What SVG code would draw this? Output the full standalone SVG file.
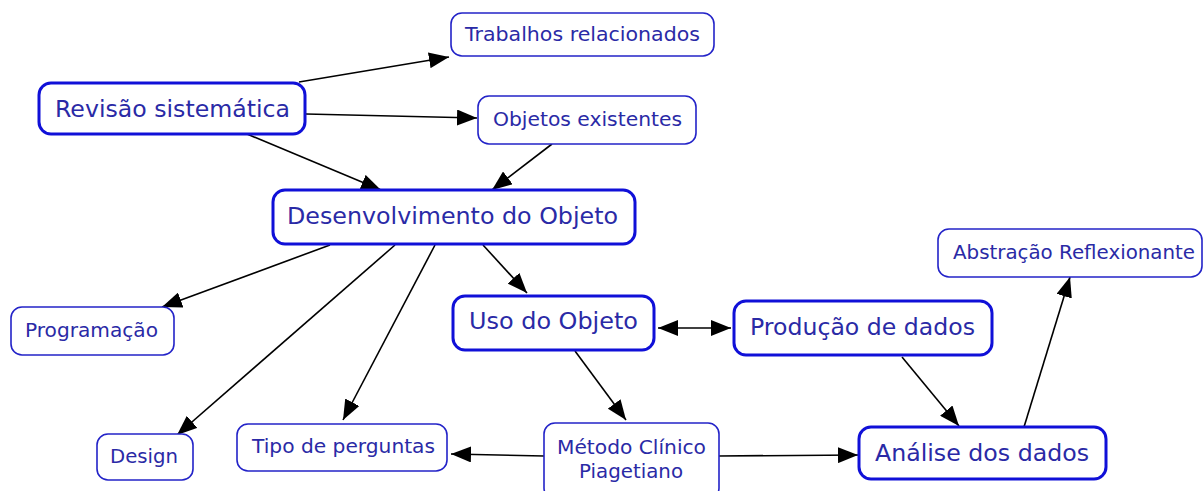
<svg xmlns="http://www.w3.org/2000/svg" width="1203" height="491" viewBox="0 0 1203 491">
<defs>
<marker id="a" viewBox="0 0 20 16" refX="20" refY="8" markerWidth="20" markerHeight="16" markerUnits="userSpaceOnUse" orient="auto-start-reverse">
<path d="M0,0 L20,8 L0,16 z" fill="#000"/>
</marker>
</defs>
<style>
.thin{fill:#fff;stroke:#2323c8;stroke-width:1.6}
.thick{fill:#fff;stroke:#1010d8;stroke-width:3}
text{font-family:"DejaVu Sans",Verdana,sans-serif;fill:#2a2aa6;text-anchor:middle;dominant-baseline:central}
.s{font-size:20px}
.l{font-size:23px}
.c{fill:none;stroke:#000;stroke-width:1.6;marker-end:url(#a)}
</style>
<rect width="1203" height="491" fill="#fff"/>
<g id="connectors">
<line class="c" x1="299" y1="82" x2="449" y2="57"/>
<line class="c" x1="306" y1="114" x2="477" y2="118"/>
<line class="c" x1="247" y1="134" x2="381" y2="190"/>
<line class="c" x1="552" y1="144" x2="492" y2="190"/>
<line class="c" x1="330" y1="245" x2="162" y2="307"/>
<line class="c" x1="395" y1="245" x2="177" y2="435"/>
<line class="c" x1="435" y1="245" x2="343" y2="420"/>
<line class="c" x1="483" y1="245" x2="527" y2="293"/>
<line class="c" x1="658" y1="328" x2="731" y2="328" style="marker-start:url(#a)"/>
<line class="c" x1="575" y1="351" x2="626" y2="420"/>
<line class="c" x1="544" y1="456" x2="451" y2="454"/>
<line class="c" x1="718" y1="456" x2="858" y2="455"/>
<line class="c" x1="902" y1="357" x2="959" y2="426"/>
<line class="c" x1="1024" y1="427" x2="1070" y2="277"/>
</g>
<g id="n-trabalhos"><rect class="thin" x="451" y="13" width="263" height="43" rx="11"/><text class="s" x="582.5" y="34" textLength="235" lengthAdjust="spacingAndGlyphs">Trabalhos relacionados</text></g>
<g id="n-revisao"><rect class="thick" x="39" y="83" width="266" height="51" rx="12"/><text class="l" x="172.5" y="109" textLength="235" lengthAdjust="spacingAndGlyphs">Revisão sistemática</text></g>
<g id="n-objetos"><rect class="thin" x="478" y="96" width="218" height="48" rx="11"/><text class="s" x="587.5" y="119" textLength="189" lengthAdjust="spacingAndGlyphs">Objetos existentes</text></g>
<g id="n-desenv"><rect class="thick" x="273" y="190" width="362" height="54" rx="12"/><text class="l" x="452.5" y="216" textLength="331" lengthAdjust="spacingAndGlyphs">Desenvolvimento do Objeto</text></g>
<g id="n-abstracao"><rect class="thin" x="938" y="229" width="264" height="48" rx="11"/><text class="s" x="1074" y="252" textLength="242" lengthAdjust="spacingAndGlyphs">Abstração Reflexionante</text></g>
<g id="n-programacao"><rect class="thin" x="11" y="307" width="163" height="48" rx="11"/><text class="s" x="91.5" y="330" textLength="133" lengthAdjust="spacingAndGlyphs">Programação</text></g>
<g id="n-uso"><rect class="thick" x="453" y="296" width="201" height="54" rx="12"/><text class="l" x="553.5" y="321" textLength="169" lengthAdjust="spacingAndGlyphs">Uso do Objeto</text></g>
<g id="n-producao"><rect class="thick" x="734" y="301" width="258" height="54" rx="12"/><text class="l" x="862.5" y="327" textLength="225" lengthAdjust="spacingAndGlyphs">Produção de dados</text></g>
<g id="n-design"><rect class="thin" x="97" y="434" width="96" height="46" rx="11"/><text class="s" x="144" y="456" textLength="68" lengthAdjust="spacingAndGlyphs">Design</text></g>
<g id="n-tipo"><rect class="thin" x="237" y="424" width="210" height="47" rx="11"/><text class="s" x="343.5" y="446" textLength="183" lengthAdjust="spacingAndGlyphs">Tipo de perguntas</text></g>
<g id="n-metodo"><rect class="thin" x="544" y="423" width="175" height="76" rx="11"/><text class="s" x="631.5" y="447" textLength="149" lengthAdjust="spacingAndGlyphs">Método Clínico</text><text class="s" x="631" y="471" textLength="104" lengthAdjust="spacingAndGlyphs">Piagetiano</text></g>
<g id="n-analise"><rect class="thick" x="859" y="427" width="247" height="52" rx="12"/><text class="l" x="982" y="453" textLength="214" lengthAdjust="spacingAndGlyphs">Análise dos dados</text></g>
</svg>
